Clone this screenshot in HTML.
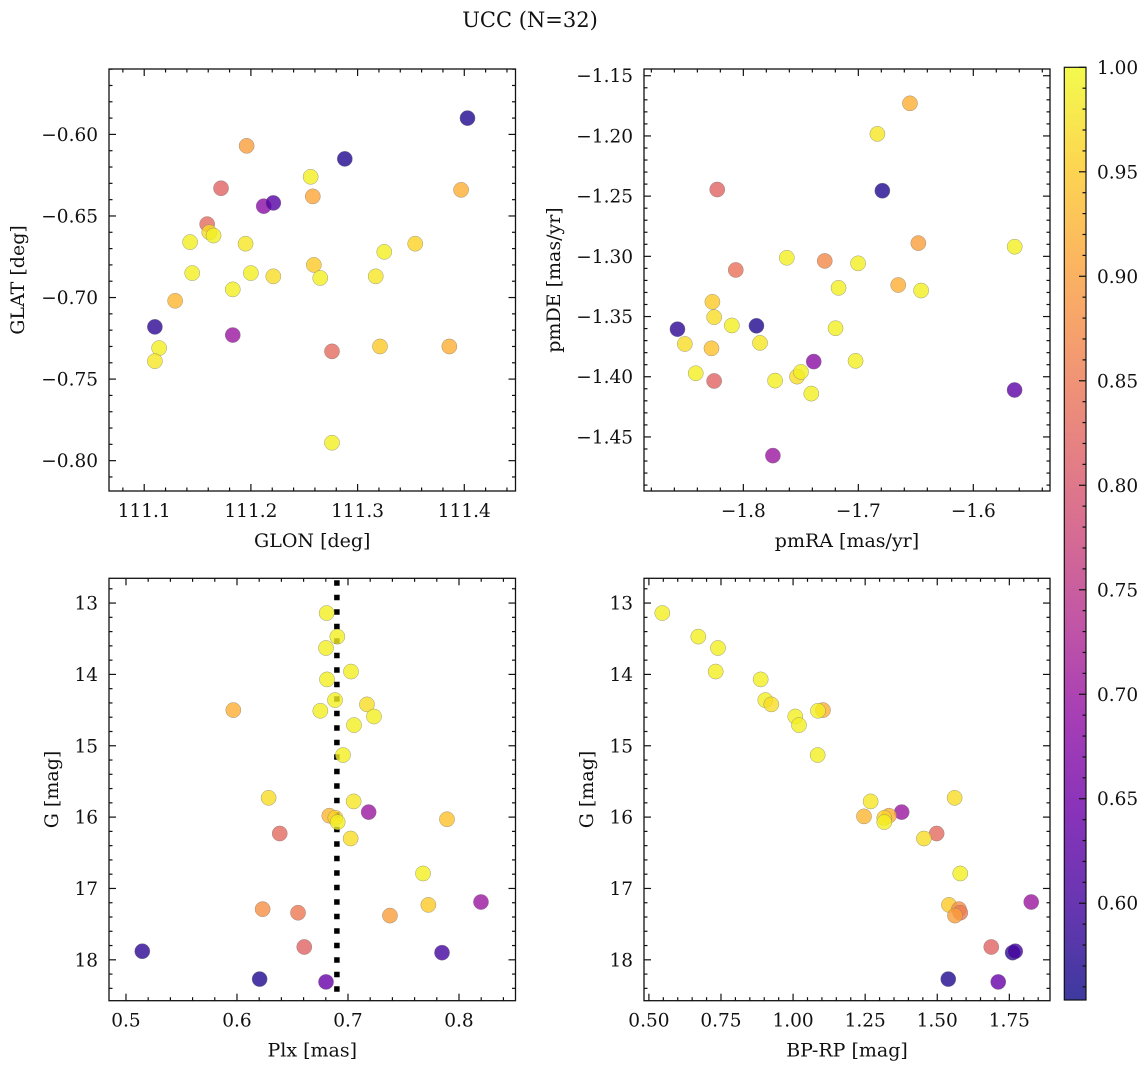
<!DOCTYPE html>
<html><head><meta charset="utf-8"><style>
html,body{margin:0;padding:0;background:#fff;}
svg{display:block;}
text{font-family:"DejaVu Serif","Liberation Serif",serif;fill:#111;}
</style></head><body>
<svg id="fig" width="1148" height="1067" viewBox="0 0 1148 1067" xmlns="http://www.w3.org/2000/svg">
<defs>
<linearGradient id="plasma" x1="0" y1="1" x2="0" y2="0">
<stop offset="0" stop-color="#0d0887"/><stop offset="0.1" stop-color="#41049d"/><stop offset="0.2" stop-color="#6a00a8"/><stop offset="0.3" stop-color="#8f0da4"/><stop offset="0.4" stop-color="#b12a90"/><stop offset="0.5" stop-color="#cc4778"/><stop offset="0.6" stop-color="#e16462"/><stop offset="0.7" stop-color="#f2844b"/><stop offset="0.8" stop-color="#fca636"/><stop offset="0.9" stop-color="#fcce25"/><stop offset="1" stop-color="#f0f921"/>
</linearGradient>
</defs>
<text x="530" y="27" text-anchor="middle" font-size="21">UCC (N=32)</text>
</svg>
<script>
// Panel 1: GLON vs GLAT
const glon = [111.403,111.288,111.196,111.172,111.212,111.221,111.159,111.161,111.165,111.256,111.258,111.397,111.143,111.195,111.325,111.354,111.145,111.200,111.221,111.259,111.265,111.317,111.183,111.129,111.110,111.114,111.110,111.183,111.276,111.321,111.386,111.276];
const glat = [-0.590,-0.615,-0.607,-0.633,-0.644,-0.642,-0.655,-0.660,-0.662,-0.626,-0.638,-0.634,-0.666,-0.667,-0.672,-0.667,-0.685,-0.685,-0.687,-0.680,-0.688,-0.687,-0.695,-0.702,-0.718,-0.731,-0.739,-0.723,-0.733,-0.730,-0.730,-0.789];
const prob1 = [0.57,0.57,0.90,0.82,0.68,0.62,0.83,0.97,0.99,0.99,0.91,0.92,0.99,0.98,0.99,0.96,0.99,0.99,0.97,0.95,0.99,0.98,0.99,0.93,0.58,0.99,0.98,0.70,0.83,0.95,0.92,0.99];
// Panel 2: pmRA vs pmDE
const pmra = [-1.6551,-1.6834,-1.8227,-1.6791,-1.6478,-1.5640,-1.7622,-1.7292,-1.7002,-1.8066,-1.6653,-1.7172,-1.6454,-1.8269,-1.8254,-1.8573,-1.8100,-1.7886,-1.8509,-1.8277,-1.7855,-1.7198,-1.7388,-1.7024,-1.8414,-1.8254,-1.7724,-1.7533,-1.7499,-1.7409,-1.5641,-1.7743];
const pmde = [-1.1729,-1.1983,-1.2445,-1.2455,-1.2890,-1.2920,-1.3012,-1.3038,-1.3058,-1.3113,-1.3238,-1.3262,-1.3284,-1.3378,-1.3505,-1.3605,-1.3574,-1.3577,-1.3728,-1.3764,-1.3719,-1.3597,-1.3874,-1.3868,-1.3971,-1.4035,-1.4032,-1.3999,-1.3960,-1.4140,-1.4110,-1.4655];
const prob2 = [0.92,0.98,0.82,0.57,0.90,0.99,0.99,0.87,0.99,0.84,0.92,0.99,0.99,0.95,0.97,0.58,0.99,0.57,0.97,0.94,0.98,0.99,0.68,0.99,0.99,0.82,0.99,0.97,0.99,0.99,0.63,0.70];
// Panels 3 & 4: Plx, BP-RP vs G
const plx = [0.6808,0.6904,0.6802,0.7027,0.6811,0.6883,0.5967,0.6751,0.7171,0.7234,0.7054,0.6955,0.6285,0.7051,0.7186,0.6832,0.6886,0.6907,0.7892,0.6385,0.7024,0.7676,0.7724,0.8198,0.6231,0.6550,0.7378,0.6606,0.5147,0.7847,0.6204,0.6802];
const gmag = [13.14,13.47,13.63,13.96,14.07,14.36,14.50,14.51,14.42,14.59,14.71,15.13,15.73,15.78,15.93,15.98,16.01,16.07,16.03,16.23,16.30,16.79,17.23,17.19,17.29,17.34,17.38,17.82,17.88,17.90,18.27,18.31];
const prob3 = [0.99,0.99,0.99,0.99,0.99,0.99,0.92,0.99,0.97,0.99,0.99,0.99,0.97,0.98,0.70,0.93,0.96,0.99,0.94,0.83,0.97,0.99,0.95,0.70,0.88,0.85,0.90,0.82,0.58,0.60,0.57,0.64];
const gmag4 = [13.14,13.47,13.63,13.96,14.07,14.36,14.42,14.50,14.51,14.59,14.71,15.13,15.78,15.73,15.93,15.99,15.98,16.01,16.07,16.23,16.30,16.79,17.23,17.19,17.29,17.34,17.38,17.82,17.90,17.88,18.27,18.31];
const bprp = [0.5465,0.6713,0.7396,0.7316,0.8877,0.9037,0.9245,1.1037,1.0864,1.0076,1.0205,1.0853,1.269,1.5603,1.3766,1.2459,1.3325,1.3163,1.3163,1.4979,1.4538,1.5798,1.5406,1.8259,1.5753,1.5798,1.5614,1.6873,1.7614,1.7705,1.5382,1.7115];
const prob4 = [0.99,0.99,0.99,0.99,0.99,0.99,0.97,0.92,0.99,0.99,0.99,0.99,0.98,0.97,0.70,0.93,0.92,0.96,0.99,0.83,0.97,0.99,0.95,0.70,0.88,0.85,0.90,0.82,0.58,0.60,0.57,0.64];
const plxLine = 0.69;
const cbTicks = ["0.60","0.65","0.70","0.75","0.80","0.85","0.90","0.95","1.00"];
const cbMin = 0.5537, cbMax = 1.0;

const NS = "http://www.w3.org/2000/svg";
const svg = document.getElementById('fig');
const TFS = 18.5, LFS = 19;
function mk(tag, attrs, parent){const e=document.createElementNS(NS,tag);for(const k in attrs)e.setAttribute(k,attrs[k]);(parent||svg).appendChild(e);return e;}
const stops=[[0,[13,8,135]],[0.1,[65,4,157]],[0.2,[106,0,168]],[0.3,[143,13,164]],[0.4,[177,42,144]],[0.5,[204,71,120]],[0.6,[225,100,98]],[0.7,[242,132,75]],[0.8,[252,166,54]],[0.9,[252,206,37]],[1,[240,249,33]]];
function plasma(t){t=Math.max(0,Math.min(1,t));for(let i=1;i<stops.length;i++){if(t<=stops[i][0]){const a=stops[i-1],b=stops[i];const f=(t-a[0])/(b[0]-a[0]);const c=a[1].map((v,j)=>Math.round(v+(b[1][j]-v)*f));return `rgb(${c[0]},${c[1]},${c[2]})`;}}return 'rgb(240,249,33)';}
function fmt(v,d){const s=Math.abs(v).toFixed(d);return (v< -1e-9?'\u2212':'')+s;}

function panel(o){
  const g=mk('g',{});
  
  
  const sx=v=>o.x0+(v-o.xmin)/(o.xmax-o.xmin)*(o.x1-o.x0);
  const sy=o.yinv?(v=>o.y0+(v-o.ymin)/(o.ymax-o.ymin)*(o.y1-o.y0)):(v=>o.y1-(v-o.ymin)/(o.ymax-o.ymin)*(o.y1-o.y0));
  const tg=mk('g',{stroke:'#111','stroke-width':1.2},g);
  
  
  const eps=1e-9;
  for(let v=Math.ceil(o.xmin/o.xminor-eps)*o.xminor; v<=o.xmax+eps; v+=o.xminor){
    const isMaj=Math.abs(v/o.xmajor-Math.round(v/o.xmajor))<1e-6; const L=isMaj?7:3.5; const x=sx(v);
    mk('line',{x1:x,x2:x,y1:o.y1,y2:o.y1-L},tg); mk('line',{x1:x,x2:x,y1:o.y0,y2:o.y0+L},tg);
    if(isMaj){const t=mk('text',{x:x,y:o.y1+26,'text-anchor':'middle','font-size':TFS,stroke:'none'},g);t.textContent=fmt(v,o.xdec);
      
      }
  }
  for(let v=Math.ceil(o.ymin/o.yminor-eps)*o.yminor; v<=o.ymax+eps; v+=o.yminor){
    const isMaj=Math.abs(v/o.ymajor-Math.round(v/o.ymajor))<1e-6; const L=isMaj?7:3.5; const y=sy(v);
    mk('line',{x1:o.x0,x2:o.x0+L,y1:y,y2:y},tg); mk('line',{x1:o.x1,x2:o.x1-L,y1:y,y2:y},tg);
    if(isMaj){const t=mk('text',{x:o.x0-11,y:y+6.5,'text-anchor':'end','font-size':TFS,stroke:'none'},g);t.textContent=fmt(v,o.ydec);
      
      }
  }
  if(o.vline!==undefined){const x=sx(o.vline);const l=mk('line',{x1:x,x2:x,y1:o.y0+2,y2:o.y1,stroke:'#000','stroke-width':5.5,'stroke-dasharray':'5.5 9'},g);
    
    }
  const pg=mk('g',{},g);
  
  
  for(let i=0;i<o.xs.length;i++){
    const c=mk('circle',{cx:sx(o.xs[i]),cy:sy(o.ys[i]),r:7.6,fill:plasma((o.ps[i]-cbMin)/(cbMax-cbMin)),'fill-opacity':0.8,stroke:'#777','stroke-width':0.5,'stroke-opacity':0.7},pg);
    
    
  }
  const fr=mk('rect',{x:o.x0,y:o.y0,width:o.x1-o.x0,height:o.y1-o.y0,fill:'none',stroke:'#111','stroke-width':1.3},g);
  
  
  const xl=mk('text',{x:(o.x0+o.x1)/2,y:o.y1+56,'text-anchor':'middle','font-size':LFS},g);xl.textContent=o.xlabel;
  
  
  const yc=(o.y0+o.y1)/2;
  const yl=mk('text',{x:o.ylx,y:yc,'text-anchor':'middle','font-size':LFS,transform:`rotate(-90 ${o.ylx} ${yc})`},g);yl.textContent=o.ylabel;
  
  
}

panel({name:'glon-glat-panel',x0:109,x1:515.5,y0:69,y1:491,xmin:111.067,xmax:111.448,ymin:-0.8186,ymax:-0.5599,xmajor:0.1,xminor:0.02,ymajor:0.05,yminor:0.01,xdec:1,ydec:2,xs:glon,ys:glat,ps:prob1,xlabel:'GLON [deg]',ylabel:'GLAT [deg]',ylx:24});
panel({name:'pm-panel',x0:644,x1:1050,y0:69,y1:491,xmin:-1.8864,xmax:-1.5333,ymin:-1.4949,ymax:-1.1444,xmajor:0.1,xminor:0.02,ymajor:0.05,yminor:0.01,xdec:1,ydec:2,xs:pmra,ys:pmde,ps:prob2,xlabel:'pmRA [mas/yr]',ylabel:'pmDE [mas/yr]',ylx:560});
panel({name:'plx-g-panel',x0:109,x1:515.5,y0:578.3,y1:1000.7,xmin:0.4847,xmax:0.8509,ymin:12.653,ymax:18.573,yinv:true,xmajor:0.1,xminor:0.02,ymajor:1,yminor:0.2,xdec:1,ydec:0,xs:plx,ys:gmag,ps:prob3,xlabel:'Plx [mas]',ylabel:'G [mag]',ylx:58,vline:plxLine});
panel({name:'cmd-panel',x0:644,x1:1050,y0:578.3,y1:1000.7,xmin:0.483,xmax:1.891,ymin:12.653,ymax:18.573,yinv:true,xmajor:0.25,xminor:0.05,ymajor:1,yminor:0.2,xdec:2,ydec:0,xs:bprp,ys:gmag4,ps:prob4,xlabel:'BP-RP [mag]',ylabel:'G [mag]',ylx:593});

// colorbar
const cb=mk('g',{});


const cbx0=1064.3,cbx1=1086,cby0=67.3,cby1=1000;
mk('rect',{x:cbx0,y:cby0,width:cbx1-cbx0,height:cby1-cby0,fill:'url(#plasma)','fill-opacity':0.8},cb);
const cy=v=>cby1-(v-cbMin)/(cbMax-cbMin)*(cby1-cby0);
for(let k=56;k<=100;k++){const v=k/100;const y=cy(v);const maj=k%5===0;
  mk('line',{x1:cbx1,x2:cbx1-(maj?7:3.5),y1:y,y2:y,stroke:'#111','stroke-width':1.2},cb);}
cbTicks.forEach(s=>{const y=cy(parseFloat(s));const t=mk('text',{x:cbx1+11,y:y+6.5,'font-size':TFS},cb);t.textContent=s;
  
  });
mk('rect',{x:cbx0,y:cby0,width:cbx1-cbx0,height:cby1-cby0,fill:'none',stroke:'#111','stroke-width':1.2},cb);
</script>
</body></html>
